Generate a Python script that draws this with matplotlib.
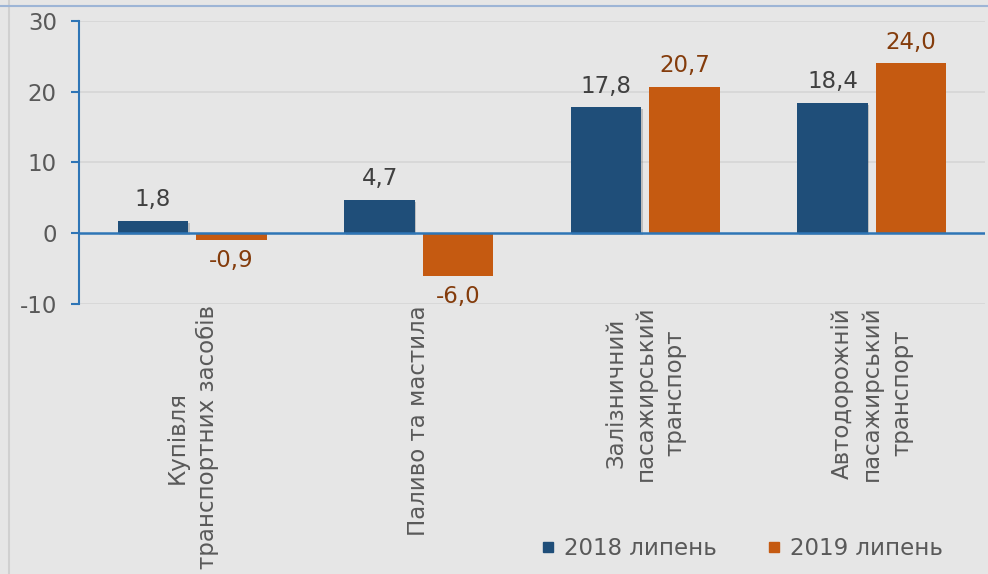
import matplotlib
matplotlib.use("Agg")
import matplotlib.pyplot as plt
import matplotlib.patheffects as pe
from matplotlib.lines import Line2D
import numpy as np

categories = ["Купівля\nтранспортних засобів", "Паливо та мастила",
              "Залізничний\nпасажирський\nтранспорт", "Автодорожній\nпасажирський\nтранспорт"]
series_names = ["2018 липень", "2019 липень"]
values_2018 = [1.8, 4.7, 17.8, 18.4]
values_2019 = [-0.9, -6.0, 20.7, 24.0]
yticks = [-10, 0, 10, 20, 30]

BLUE = "#1F4E79"
ORANGE = "#C55A11"
AXBLUE = "#2E75B6"
BG = "#E6E6E6"
TXT = "#595959"
FS = 16.5

plt.rcParams['font.family'] = ['DejaVu Sans']

fig = plt.figure(figsize=(9.88, 5.74), dpi=100, facecolor=BG)
ax = fig.add_axes([0.08, 0.4704, 0.917, 0.493])
ax.set_facecolor(BG)

x = np.arange(len(categories))
w = 0.31
off = 0.173
b1 = ax.bar(x - off, values_2018, w, color=BLUE, zorder=3)
b2 = ax.bar(x + off, values_2019, w, color=ORANGE, zorder=3)
for r in b1:
    r.set_path_effects([pe.SimplePatchShadow(offset=(1, -1.5), alpha=0.2, shadow_rgbFace="#222222"), pe.Normal()])

def fmt(v):
    return f"{v:.1f}".replace(".", ",")

for bars, vals, col in [(b1, values_2018, "#404040"), (b2, values_2019, "#843C0C")]:
    for r, v in zip(bars, vals):
        ax.annotate(fmt(v), (r.get_x() + r.get_width() / 2, v), xytext=(0, 7 if v >= 0 else -7),
                    textcoords="offset points", ha="center", va="bottom" if v >= 0 else "top",
                    fontsize=FS, color=col, zorder=5)

ax.set_ylim(-10, 30)
ax.set_xlim(-0.5, len(categories) - 0.5)
ax.set_yticks(yticks)
ax.set_yticklabels([str(t) for t in yticks])
ax.tick_params(axis="y", colors=AXBLUE, labelcolor=TXT, labelsize=FS, length=6, width=1.5, pad=10)
ax.set_xticks(x)
ax.set_xticklabels(categories, rotation=90, ha="center", va="top", multialignment="center",
                   fontsize=FS, color=TXT, linespacing=1.37)
ax.tick_params(axis="x", length=0, pad=1)

for s in ["top", "right", "bottom"]:
    ax.spines[s].set_visible(False)
ax.spines["left"].set_color(AXBLUE)
ax.spines["left"].set_linewidth(1.5)

for t in yticks:
    if t != 0:
        ax.axhline(t, color="#D6D6D6", lw=1.2, zorder=1)
ax.axhline(0, color=AXBLUE, lw=1.8, zorder=4)

# frame lines
fig.add_artist(Line2D([9 / 988, 9 / 988], [0, 1], color="#D0D0D0", lw=1.5))
fig.add_artist(Line2D([0, 1], [1 - 6 / 574, 1 - 6 / 574], color="#9DB5D6", lw=1.5))

handles = [Line2D([], [], marker="s", ls="none", color=BLUE, markersize=7),
           Line2D([], [], marker="s", ls="none", color=ORANGE, markersize=7)]
fig.legend(handles, series_names, loc="center", bbox_to_anchor=(0.749, 0.045), ncol=2,
           frameon=False, fontsize=FS, labelcolor=TXT, handletextpad=0.2, columnspacing=2.0,
           handlelength=1.0)

fig.savefig("out.png", dpi=100, facecolor=BG)
